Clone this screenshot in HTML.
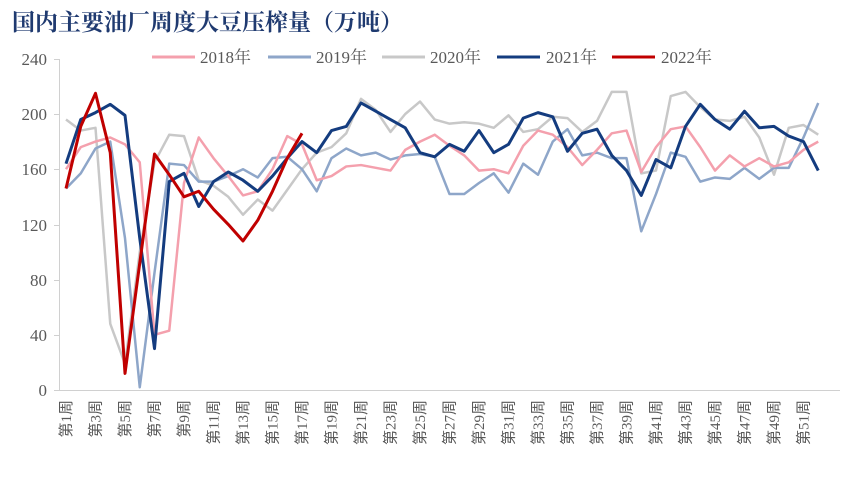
<!DOCTYPE html>
<html><head><meta charset="utf-8"><style>
body{margin:0;background:#fff;}
svg{display:block;font-family:"Liberation Serif","Noto Serif CJK SC",serif;}
</style></head><body>
<svg width="850" height="480" viewBox="0 0 850 480">
<text x="12" y="30" font-size="23" font-weight="bold" fill="#1f3a70" font-family="'Noto Serif CJK SC',serif">国内主要油厂周度大豆压榨量（万吨）</text>
<g stroke="#d0d0d0" stroke-width="1">
<line x1="59.5" y1="59" x2="59.5" y2="390"/>
<line x1="59" y1="390.5" x2="840" y2="390.5"/>
<line x1="54" y1="59.5" x2="59" y2="59.5"/><line x1="54" y1="114.5" x2="59" y2="114.5"/>
<line x1="54" y1="169.5" x2="59" y2="169.5"/><line x1="54" y1="225.5" x2="59" y2="225.5"/>
<line x1="54" y1="280.5" x2="59" y2="280.5"/><line x1="54" y1="335.5" x2="59" y2="335.5"/>
<line x1="54" y1="390.5" x2="59" y2="390.5"/>
</g>
<g font-size="17" fill="#595959" text-anchor="end">
<text x="47" y="65">240</text><text x="47" y="120">200</text><text x="47" y="175">160</text>
<text x="47" y="231">120</text><text x="47" y="286">80</text><text x="47" y="341">40</text><text x="47" y="396">0</text>
</g>
<g font-size="15" fill="#595959" text-anchor="end" font-family="'Liberation Serif','Noto Sans CJK SC',sans-serif">
<text transform="translate(71,400) rotate(-90)">第1周</text>
<text transform="translate(100.5,400) rotate(-90)">第3周</text>
<text transform="translate(130,400) rotate(-90)">第5周</text>
<text transform="translate(159.5,400) rotate(-90)">第7周</text>
<text transform="translate(189,400) rotate(-90)">第9周</text>
<text transform="translate(218.5,400) rotate(-90)">第11周</text>
<text transform="translate(248,400) rotate(-90)">第13周</text>
<text transform="translate(277.5,400) rotate(-90)">第15周</text>
<text transform="translate(307,400) rotate(-90)">第17周</text>
<text transform="translate(336.5,400) rotate(-90)">第19周</text>
<text transform="translate(366,400) rotate(-90)">第21周</text>
<text transform="translate(395.5,400) rotate(-90)">第23周</text>
<text transform="translate(425,400) rotate(-90)">第25周</text>
<text transform="translate(454.5,400) rotate(-90)">第27周</text>
<text transform="translate(484,400) rotate(-90)">第29周</text>
<text transform="translate(513.5,400) rotate(-90)">第31周</text>
<text transform="translate(543,400) rotate(-90)">第33周</text>
<text transform="translate(572.5,400) rotate(-90)">第35周</text>
<text transform="translate(602,400) rotate(-90)">第37周</text>
<text transform="translate(631.5,400) rotate(-90)">第39周</text>
<text transform="translate(661,400) rotate(-90)">第41周</text>
<text transform="translate(690.5,400) rotate(-90)">第43周</text>
<text transform="translate(720,400) rotate(-90)">第45周</text>
<text transform="translate(749.5,400) rotate(-90)">第47周</text>
<text transform="translate(779,400) rotate(-90)">第49周</text>
<text transform="translate(808.5,400) rotate(-90)">第51周</text>
</g>
<g font-size="17" fill="#595959" font-family="'Liberation Serif','Noto Serif CJK SC',serif">
<line x1="152" y1="57" x2="195" y2="57" stroke="#f4a0ad" stroke-width="3"/><text x="200" y="63">2018年</text>
<line x1="268" y1="57" x2="311" y2="57" stroke="#8ea6c9" stroke-width="3"/><text x="316" y="63">2019年</text>
<line x1="382" y1="57" x2="425" y2="57" stroke="#c8c8c8" stroke-width="3"/><text x="430" y="63">2020年</text>
<line x1="497" y1="57" x2="540" y2="57" stroke="#143c7f" stroke-width="3"/><text x="546" y="63">2021年</text>
<line x1="612" y1="57" x2="655" y2="57" stroke="#c00000" stroke-width="3"/><text x="661" y="63">2022年</text>
</g>
<g transform="translate(66,390) scale(14.75,-1.38)" fill="none" stroke-linejoin="round">
<polyline vector-effect="non-scaling-stroke" stroke="#c8c8c8" stroke-width="2.5" points="0,196 1,188 2,190 3,48 4,19 5,100 6,165 7,185 8,184 9,152 10,148 11,140 12,127 13,138 14,130 15,145 16,160 17,172 18,176 19,186 20,211 21,203 22,187 23,200 24,209 25,196 26,193 27,194 28,193 29,190 30,199 31,187 32,189 33,198 34,197 35,187 36,195 37,216 38,216 39,157 40,159 41,213 42,216 43,205 44,196 45,195 46,198 47,183 48,156 49,190 50,192 51,185"/>
<polyline vector-effect="non-scaling-stroke" stroke="#8ea6c9" stroke-width="2.5" points="0,146 1,157 2,175 3,180 4,110 5,2 6,85 7,164 8,163 9,151 10,151 11,155 12,160 13,154 14,168 15,169 16,160 17,144 18,168 19,175 20,170 21,172 22,167 23,170 24,171 25,169 26,142 27,142 28,150 29,157 30,143 31,164 32,156 33,180 34,189 35,170 36,172 37,168 38,168 39,115 40,142 41,172 42,169 43,151 44,154 45,153 46,161 47,153 48,161 49,161 50,183 51,208"/>
<polyline vector-effect="non-scaling-stroke" stroke="#f4a0ad" stroke-width="2.5" points="0,160 1,176 2,180 3,183 4,178 5,165 6,40 7,43 8,150 9,183 10,168 11,155 12,141 13,144 14,160 15,184 16,178 17,152 18,155 19,162 20,163 21,161 22,159 23,174 24,180 25,185 26,177 27,170 28,159 29,160 30,157 31,177 32,188 33,185 34,176 35,163 36,174 37,186 38,188 39,158 40,176 41,189 42,191 43,176 44,159 45,170 46,162 47,168 48,162 49,165 50,174 51,180"/>
<polyline vector-effect="non-scaling-stroke" stroke="#143c7f" stroke-width="3" points="0,164 1,196 2,201 3,207 4,199 5,110 6,30 7,151 8,157 9,133 10,151 11,158 12,152 13,144 14,155 15,168 16,180 17,172 18,188 19,191 20,208 21,202 22,196 23,190 24,172 25,169 26,178 27,173 28,188 29,172 30,178 31,197 32,201 33,198 34,173 35,186 36,189 37,170 38,159 39,141 40,167 41,161 42,191 43,207 44,196 45,189 46,202 47,190 48,191 49,184 50,180 51,159"/>
<polyline vector-effect="non-scaling-stroke" stroke="#c00000" stroke-width="3" points="0,146 1,191 2,215 3,172 4,12 5,92 6,171 7,156 8,140 9,144 10,131 11,120 12,108 13,123 14,144 15,168 16,186"/>
</g>
</svg>
</body></html>
